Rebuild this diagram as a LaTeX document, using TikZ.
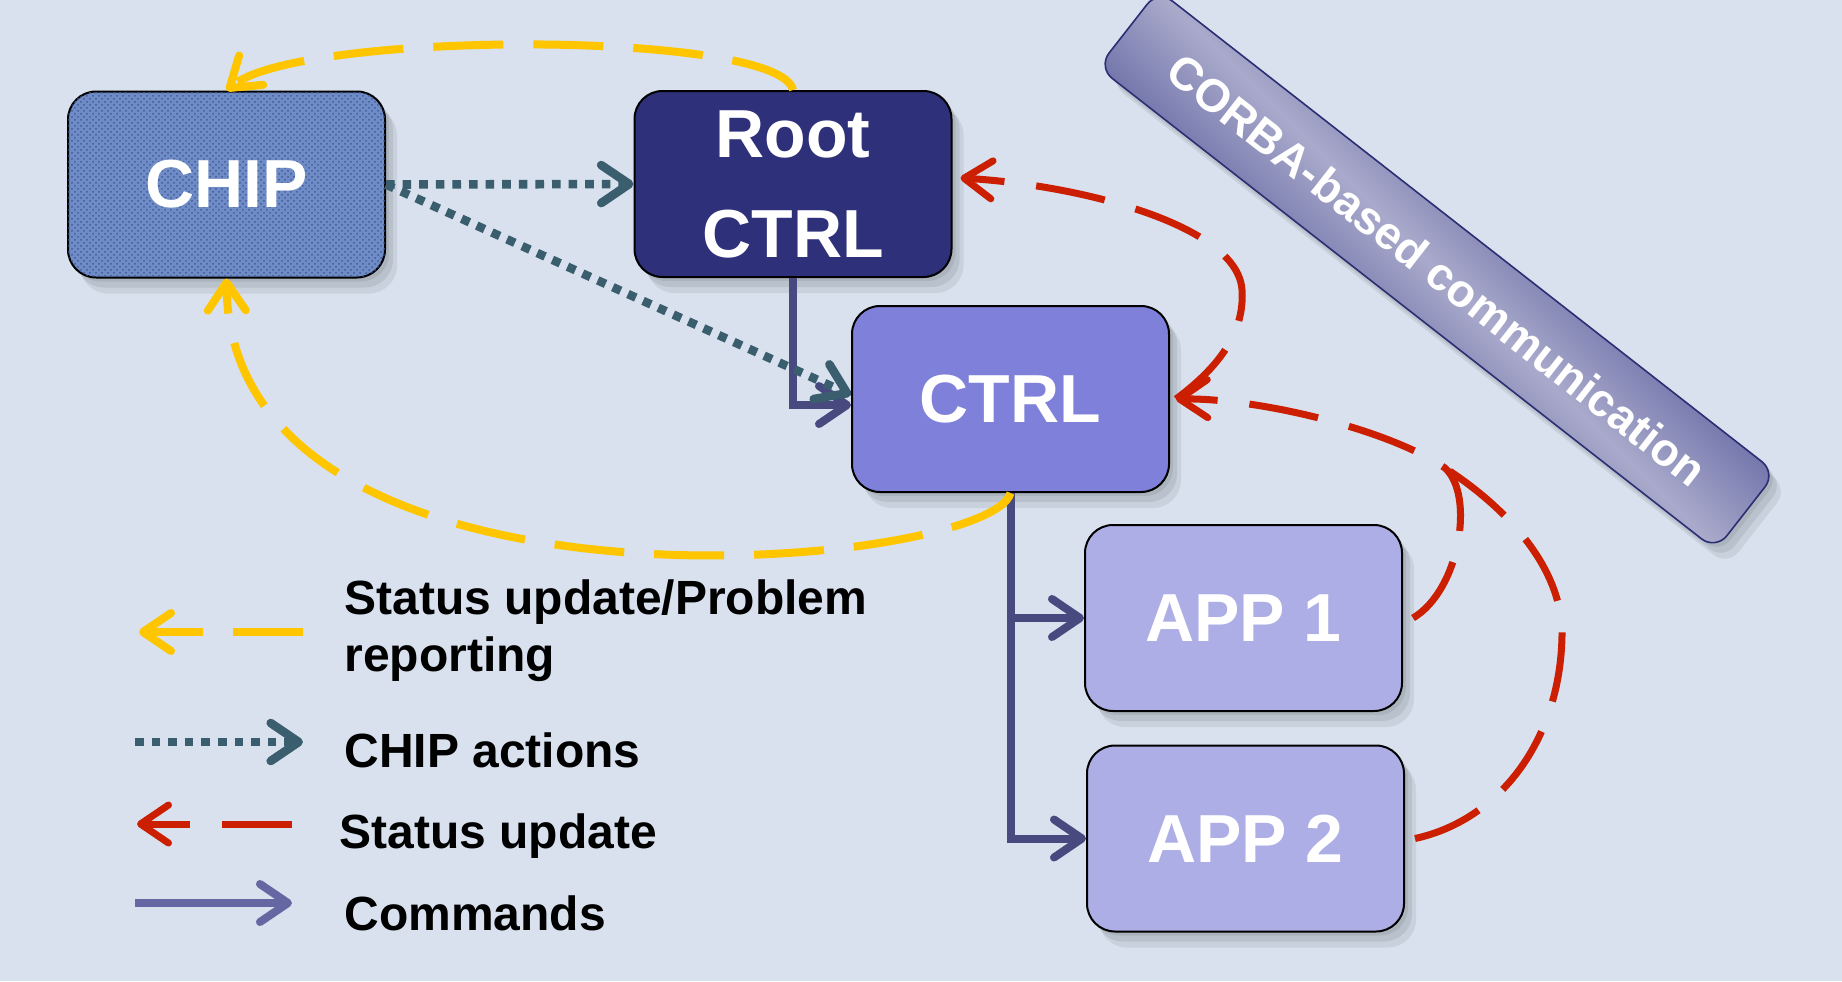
\documentclass[tikz,border=0pt]{standalone}
\usepackage{fontspec}
\setmainfont{Liberation Sans}
\usetikzlibrary{arrows.meta,shadows,patterns}
\definecolor{bg}{HTML}{D8E1ED}
\definecolor{chipc}{HTML}{6F8CC6}
\definecolor{chipd}{HTML}{3F5A9A}
\definecolor{rootc}{HTML}{2E3079}
\definecolor{ctrlc}{HTML}{7F80D9}
\definecolor{appc}{HTML}{AEAEE6}
\definecolor{yelc}{HTML}{FFC600}
\definecolor{redc}{HTML}{CC1E00}
\definecolor{tealc}{HTML}{3B5E6E}
\definecolor{cmdc}{HTML}{47497F}
\definecolor{cmdl}{HTML}{6567A2}
\definecolor{banlight}{HTML}{A9AACB}
\definecolor{bandark}{HTML}{343987}
\definecolor{banedge}{HTML}{2B2E72}
\pgfdeclarehorizontalshading{banshade}{100bp}{color(0bp)=(bandark); color(33bp)=(bandark); color(50bp)=(banlight); color(67bp)=(bandark); color(100bp)=(bandark)}
\begin{document}
\begin{tikzpicture}[x=0.5pt,y=-0.5pt,
  softshadow/.style={
    drop shadow={shadow xshift=2pt, shadow yshift=-2pt, opacity=0.07, fill=black},
    drop shadow={shadow xshift=4pt, shadow yshift=-5pt, opacity=0.07, fill=black},
    drop shadow={shadow xshift=6pt, shadow yshift=-8pt, opacity=0.07, fill=black}},
  box/.style={draw=black, line width=1pt, rounded corners=14pt,
    minimum width=158.5pt, minimum height=93pt, inner sep=0pt,
    text=white, font=\bfseries\fontsize{34}{50}\selectfont, align=center, softshadow},
  tip/.style={-{Straight Barb[length=14pt,width=19pt,round]}},
  yel/.style={draw=yelc, line width=4pt, dash pattern=on 35pt off 15pt, tip},
  redl/.style={draw=redc, line width=3.5pt, dash pattern=on 35pt off 16pt},
  reda/.style={redl, tip},
  chipact/.style={draw=tealc, line width=4.3pt, dash pattern=on 4.3pt off 4pt, tip},
  cmd/.style={draw=cmdc, line width=4pt, tip},
  legtext/.style={inner sep=0pt, font=\bfseries\fontsize{24}{28.5}\selectfont, text=black, align=left}
]
\useasboundingbox (0,0) rectangle (1842,981);
\fill[bg] (0,0) rectangle (1842,981);

% banner
\node[rotate=-38, draw=banedge, line width=0.8pt, rounded corners=9pt,
  shading=banshade, shading angle=45,
  minimum width=392pt, minimum height=49pt, inner sep=0pt,
  text=white, font=\bfseries\fontsize{23}{26}\selectfont, softshadow]
  (corba) at (1437,270) {CORBA-based communication};

% boxes
\node[box, fill=chipc, postaction={pattern=crosshatch dots, pattern color=chipd}] (chip) at (226.5,184.5) {CHIP};
\node[box, fill=rootc] (root) at (793,184) {Root\\CTRL};
\node[box, fill=ctrlc] (ctrl) at (1010.5,399) {CTRL};
\node[box, fill=appc] (app1) at (1243.5,618) {APP 1};
\node[box, fill=appc] (app2) at (1245.5,838.5) {APP 2};

% commands
\draw[cmd] (root.south) |- ([yshift=-3pt]ctrl.west);
\draw[cmd] (ctrl.south) |- (app1.west);
\draw[cmd] (ctrl.south) |- (app2.west);

% CHIP actions
\draw[chipact] (chip.east) -- (root.west);
\draw[chipact] (chip.east) -- ([yshift=2pt]ctrl.west);

% status update / problem reporting
\draw[yel] (root.north) .. controls (780,30) and (300,30) .. (chip.north);
\draw[yel] (ctrl.south) .. controls (990,570) and (230,640) .. (chip.south);

% status update
\coordinate (merge) at (1445,468);
\draw[reda] ([xshift=3pt]ctrl.east) .. controls (1215,370) and (1245,335) .. (1242,290)
  .. controls (1238,225) and (1080,185) .. ([xshift=4pt,yshift=3pt]root.east);
\draw[reda] ([xshift=5pt]app1.east) .. controls (1460,590) and (1475,495) .. (merge)
  .. controls (1390,430) and (1260,398) .. ([xshift=3pt]ctrl.east);
\draw[redl] ([xshift=5pt]app2.east) .. controls (1500,820) and (1560,740) .. (1562,636)
  .. controls (1563,570) and (1510,510) .. (merge);

% legend
\coordinate (ly1) at (303,632); \coordinate (ly2) at (139,632);
\draw[yel] (ly1) -- (ly2);
\node[legtext, anchor=north west] (lt1) at (344,579) {Status update/Problem\\reporting};
\coordinate (lc1) at (135,742); \coordinate (lc2) at (303,742);
\draw[chipact] (lc1) -- (lc2);
\node[legtext, anchor=base west] (lt2) at (344,767) {CHIP actions};
\coordinate (lr1) at (292,824); \coordinate (lr2) at (137,824);
\draw[reda] (lr1) -- (lr2);
\node[legtext, anchor=base west] (lt3) at (339,848) {Status update};
\coordinate (lm1) at (135,903); \coordinate (lm2) at (292,903);
\draw[cmd, draw=cmdl] (lm1) -- (lm2);
\node[legtext, anchor=base west] (lt4) at (344,930) {Commands};
\end{tikzpicture}
\end{document}
